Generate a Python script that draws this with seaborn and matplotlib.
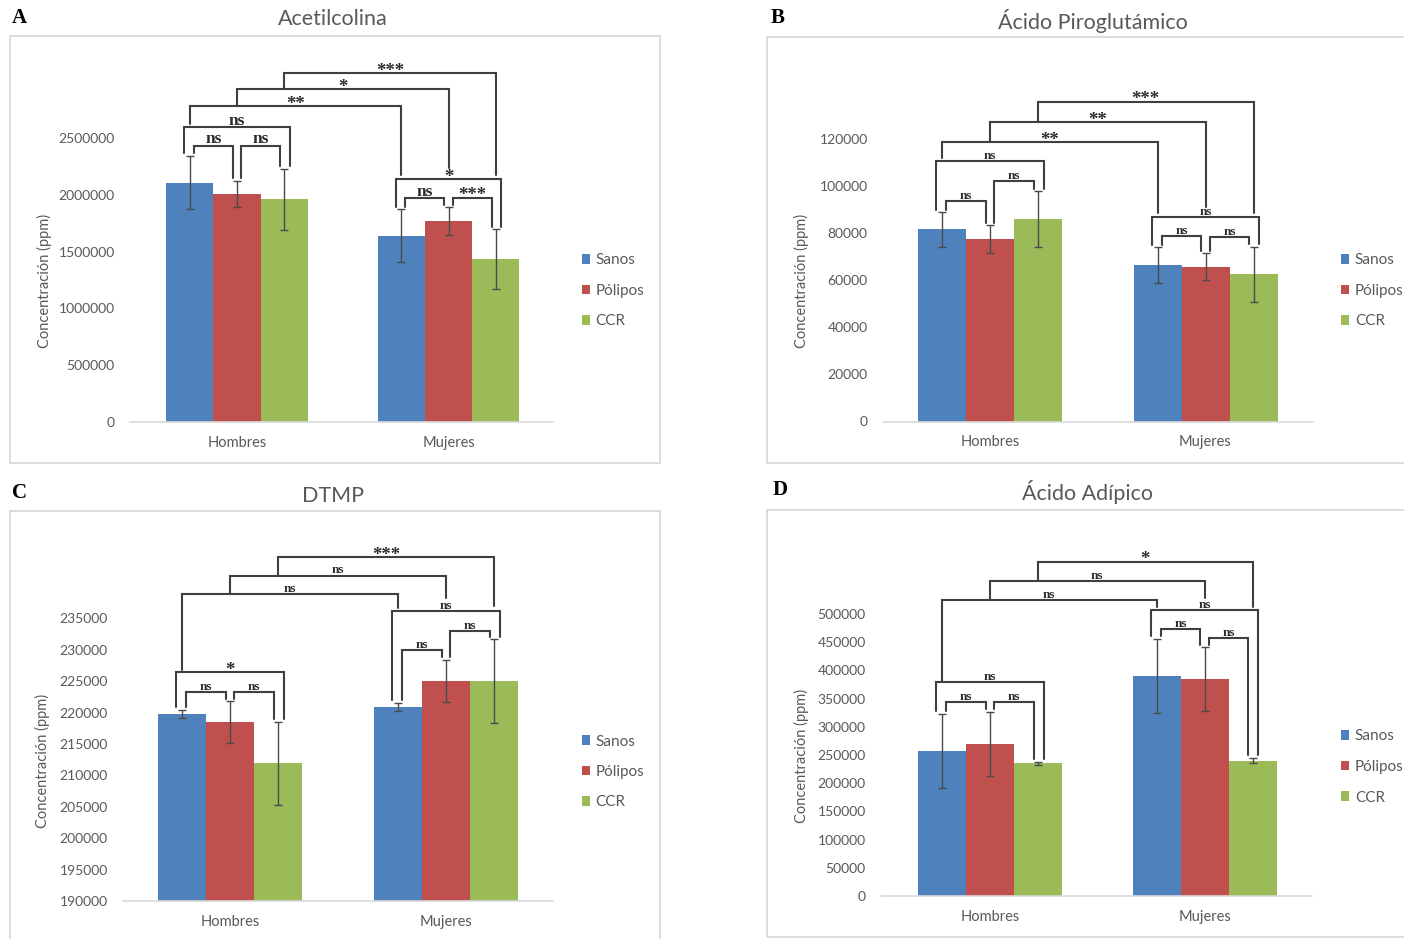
import numpy as np
import pandas as pd
import matplotlib
matplotlib.use("Agg")
import matplotlib.pyplot as plt
import seaborn as sns
from matplotlib.patches import Rectangle

# ------------------------------- datos ---------------------------------
CATEGORIAS = ["Hombres", "Mujeres"]
GRUPOS = ["Sanos", "Pólipos", "CCR"]
COLORES = ["#4F81BD", "#C0504D", "#9BBB59"]

# orden de las barras: Hombres (Sanos, Pólipos, CCR), Mujeres (Sanos, Pólipos, CCR)
acet_media = [2110000, 2010000, 1963000, 1640000, 1770000, 1433000]
acet_error = [235000, 115000, 270000, 235000, 120000, 265000]
acet_ticks = [0, 500000, 1000000, 1500000, 2000000, 2500000]

piro_media = [81700, 77600, 86100, 66500, 65800, 62600]
piro_error = [7300, 5800, 11900, 7500, 5700, 11800]
piro_ticks = [0, 20000, 40000, 60000, 80000, 100000, 120000]

dtmp_media = [219800, 218500, 211900, 220900, 225000, 225000]
dtmp_error = [640, 3300, 6600, 660, 3400, 6700]
dtmp_ticks = [190000, 195000, 200000, 205000, 210000, 215000, 220000,
              225000, 230000, 235000]

adip_media = [257000, 269500, 235300, 390000, 384700, 240000]
adip_error = [66000, 57600, 2500, 66000, 56700, 5000]
adip_ticks = [0, 50000, 100000, 150000, 200000, 250000, 300000, 350000,
              400000, 450000, 500000]

# corchetes: (barra i, barra j, nivel, etiqueta, fin pata izq., fin pata der.)
# None -> la pata baja hasta la barra de error
acet_corchetes = [
    (0, 1, 2436000, "ns", None, None),
    (1, 2, 2436000, "ns", None, None),
    (0, 2, 2603000, "ns", None, None),
    (3, 4, 1977000, "ns", None, None),
    (4, 5, 1977000, "***", None, None),
    (3, 5, 2142000, "*", None, None),
    (0, 3, 2786000, "**", 2630000, 2177000),
    (1, 4, 2933000, "*", 2786000, 2239000),
    (2, 5, 3075000, "***", 2933000, 2177000),
]
piro_corchetes = [
    (0, 1, 93800, "ns", None, None),
    (1, 2, 102300, "ns", None, None),
    (0, 2, 110600, "ns", None, None),
    (3, 4, 78900, "ns", None, None),
    (4, 5, 78300, "ns", None, None),
    (3, 5, 86800, "ns", None, None),
    (0, 3, 118700, "**", 112000, 88500),
    (1, 4, 127200, "**", 118700, 91300),
    (2, 5, 136000, "***", 127200, 88500),
]
dtmp_corchetes = [
    (0, 1, 223300, "ns", None, None),
    (1, 2, 223300, "ns", None, None),
    (0, 2, 226400, "*", None, None),
    (3, 4, 230000, "ns", None, None),
    (4, 5, 233000, "ns", None, None),
    (3, 5, 236100, "ns", None, None),
    (0, 3, 238800, "ns", 226700, 236600),
    (1, 4, 241800, "ns", 238800, 238200),
    (2, 5, 244800, "***", 241800, 236900),
]
adip_corchetes = [
    (0, 1, 343400, "ns", None, None),
    (1, 2, 343400, "ns", None, None),
    (0, 2, 378900, "ns", None, None),
    (3, 4, 473400, "ns", None, None),
    (4, 5, 456900, "ns", None, None),
    (3, 5, 507100, "ns", None, None),
    (0, 3, 524800, "ns", 381000, 511900),
    (1, 4, 559000, "ns", 524800, 527800),
    (2, 5, 592700, "*", 559000, 511900),
]

# ----------------------------- estilo ----------------------------------
sns.set_style("white")
plt.rcParams["font.family"] = ["Lato", "DejaVu Sans"]
GRIS_TEXTO = "#595959"
GRIS_LINEA = "#d9d9d9"
OSCURO = "#3f3f3f"
SERIF = ["Liberation Serif", "DejaVu Serif"]

W, H = 1404, 939


def fx(px):
    return px / W


def fy(py):
    return 1 - py / H


PANELES = [
    dict(letra="A", titulo="Acetilcolina", media=acet_media, error=acet_error,
         ticks=acet_ticks, corchetes=acet_corchetes,
         caja=(10, 36, 660, 463), eje=(130, 553, 421.7, 50),
         centros=(237, 448.5), ancho_px=142, tick_ref=(2500000, 138.3),
         titulo_xy=(333, 19), letra_xy=(12, 18), ylab_xy=(44, 281),
         leyenda_xy=(582, 291), ns_size=12.5),
    dict(letra="B", titulo="Ácido Piroglutámico", media=piro_media, error=piro_error,
         ticks=piro_ticks, corchetes=piro_corchetes,
         caja=(767, 37, 1420, 463), eje=(883, 1313, 421.5, 50),
         centros=(990, 1205.5), ancho_px=144, tick_ref=(120000, 139.3),
         titulo_xy=(1093, 21), letra_xy=(771, 18), ylab_xy=(801, 281),
         leyenda_xy=(1341, 291), ns_size=9.5),
    dict(letra="C", titulo="DTMP", media=dtmp_media, error=dtmp_error,
         ticks=dtmp_ticks, corchetes=dtmp_corchetes,
         caja=(10, 511, 660, 950), eje=(123, 553, 901, 530),
         centros=(230, 446), ancho_px=144, tick_ref=(235000, 618.3),
         titulo_xy=(333, 496), letra_xy=(12, 493), ylab_xy=(42, 761),
         leyenda_xy=(582, 772), ns_size=9.5),
    dict(letra="D", titulo="Ácido Adípico", media=adip_media, error=adip_error,
         ticks=adip_ticks, corchetes=adip_corchetes,
         caja=(767, 510, 1420, 937), eje=(881, 1312, 896, 530),
         centros=(990, 1204.5), ancho_px=144, tick_ref=(500000, 614),
         titulo_xy=(1088, 492), letra_xy=(773, 490), ylab_xy=(801, 756),
         leyenda_xy=(1341, 767), ns_size=9.5),
]


def dibujar_panel(fig, p):
    izq, der, base, arriba = p["eje"]
    ax = fig.add_axes([fx(izq), fy(base), (der - izq) / W, (base - arriba) / H])

    df = pd.DataFrame({
        "sexo": np.repeat(CATEGORIAS, len(GRUPOS)),
        "grupo": GRUPOS * len(CATEGORIAS),
        "valor": p["media"],
    })
    sep = p["centros"][1] - p["centros"][0]
    sns.barplot(data=df, x="sexo", y="valor", hue="grupo", order=CATEGORIAS,
                hue_order=GRUPOS, palette=COLORES, width=p["ancho_px"] / sep,
                errorbar=None, saturation=1, linewidth=0, ax=ax)

    # escala vertical igual que en el original
    y0 = p["ticks"][0]
    v_ref, py_ref = p["tick_ref"]
    por_px = (v_ref - y0) / (base - py_ref)
    ax.set_ylim(y0, y0 + (base - arriba) * por_px)
    ax.set_xlim(-(p["centros"][0] - izq) / sep, 1 + (der - p["centros"][1]) / sep)

    # centros de cada barra
    n = len(p["media"])
    cx = np.zeros(n)
    for k, cont in enumerate(ax.containers):
        for i, bar in enumerate(cont):
            cx[i * len(GRUPOS) + k] = bar.get_x() + bar.get_width() / 2
    media = np.asarray(p["media"], float)
    error = np.asarray(p["error"], float)
    ax.errorbar(cx, media, yerr=error, fmt="none", ecolor="#4a4a4a",
                elinewidth=1, capsize=3, capthick=1, zorder=3)

    # ejes estilo Excel
    ax.set_yticks(p["ticks"], labels=[str(t) for t in p["ticks"]])
    ax.tick_params(axis="y", length=0, pad=11, labelsize=10, labelcolor=GRIS_TEXTO)
    ax.tick_params(axis="x", length=0, pad=10, labelsize=10.5, labelcolor=GRIS_TEXTO)
    ax.set_xlabel("")
    ax.set_ylabel("")
    for lado in ["left", "right", "top"]:
        ax.spines[lado].set_visible(False)
    ax.spines["bottom"].set_color(GRIS_LINEA)
    ax.spines["bottom"].set_linewidth(1.2)
    ax.patch.set_alpha(0)

    # corchetes de significancia
    hueco = 2.5 * por_px
    d = 0.02
    for i, j, nivel, etiqueta, bi, bj in p["corchetes"]:
        mismo = (i // 3) == (j // 3)
        if mismo and j - i == 1:
            oi, oj = d, -d
        elif mismo:
            oi, oj = -1.3 * d, 1.3 * d
        else:
            oi, oj = 0, 0
        xi, xj = cx[i] + oi, cx[j] + oj
        yi = media[i] + error[i] + hueco if bi is None else bi
        yj = media[j] + error[j] + hueco if bj is None else bj
        ax.plot([xi, xi, xj, xj], [yi, nivel, nivel, yj], color=OSCURO,
                lw=1.5, solid_joinstyle="miter", clip_on=False, zorder=4)
        if etiqueta == "ns":
            ax.annotate(etiqueta, ((xi + xj) / 2, nivel), xytext=(0, 1.5),
                        textcoords="offset points", ha="center", va="baseline",
                        family=SERIF, weight="bold", fontsize=p["ns_size"],
                        color="#2b2b2b", annotation_clip=False)
        else:
            ax.annotate(etiqueta, ((xi + xj) / 2, nivel), xytext=(0, -2),
                        textcoords="offset points", ha="center", va="baseline",
                        family=SERIF, weight="bold", fontsize=13.5,
                        color="#2b2b2b", annotation_clip=False)

    # leyenda
    lx, ly = p["leyenda_xy"]
    sns.move_legend(ax, "center left", bbox_to_anchor=(fx(lx), fy(ly)),
                    bbox_transform=fig.transFigure, frameon=False, title=None,
                    fontsize=11, handlelength=0.55, handleheight=0.55,
                    handletextpad=0.35, labelspacing=1.08, borderpad=0,
                    borderaxespad=0)
    for t in ax.get_legend().get_texts():
        t.set_color(GRIS_TEXTO)

    # marco, titulo, letra y etiqueta del eje y
    x0, y0c, x1, y1c = p["caja"]
    fig.add_artist(Rectangle((fx(x0), fy(y1c)), (x1 - x0) / W, (y1c - y0c) / H,
                             transform=fig.transFigure, fill=False,
                             ec=GRIS_LINEA, lw=1.3))
    tx, ty = p["titulo_xy"]
    fig.text(fx(tx), fy(ty), p["titulo"], ha="center", va="center",
             fontsize=15.5, color=GRIS_TEXTO)
    lx, ly = p["letra_xy"]
    fig.text(fx(lx), fy(ly), p["letra"], ha="left", va="center",
             family=SERIF, weight="bold", fontsize=15, color="black")
    yx, yy = p["ylab_xy"]
    fig.text(fx(yx), fy(yy), "Concentración (ppm)", ha="center", va="center",
             rotation=90, fontsize=10.5, color=GRIS_TEXTO)
    return ax


fig = plt.figure(figsize=(W / 100, H / 100), dpi=100)
for panel in PANELES:
    dibujar_panel(fig, panel)
fig.savefig("out.png", dpi=100)
